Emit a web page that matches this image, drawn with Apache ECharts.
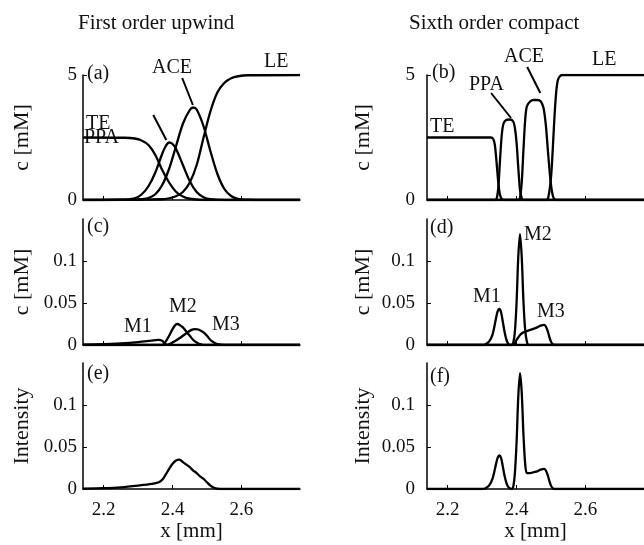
<!DOCTYPE html>
<html>
<head>
<meta charset="utf-8">
<script src="https://cdn.jsdelivr.net/npm/echarts@6/dist/echarts.min.js"></script>
<style>
  html, body { margin: 0; padding: 0; background: #fff; }
  #chart { width: 644px; height: 545px; }
</style>
</head>
<body>
<div id="chart"></div>
<script>
// x range and tick labels (shared by all panels)
const xMin = 2.14;
const xMax = 2.77;
const xTicks = [2.2, 2.4, 2.6];
const concTicks = [0, 5];
const smallTicks = [0, 0.05, 0.1];

// (a) first order upwind, c [mM]
const teUpwind = [[2.14,2.5],[2.26,2.49],[2.29,2.46],[2.31,2.38],[2.33,2.2],[2.35,1.8],[2.37,1.2],[2.39,0.7],[2.41,0.33],[2.43,0.14],[2.45,0.05],[2.48,0.01],[2.52,0],[2.77,0]];
const ppaUpwind = [[2.14,0],[2.25,0.01],[2.29,0.07],[2.31,0.22],[2.33,0.55],[2.35,1.1],[2.37,1.85],[2.38,2.15],[2.39,2.3],[2.40,2.24],[2.41,2.05],[2.43,1.4],[2.45,0.75],[2.47,0.32],[2.49,0.11],[2.51,0.03],[2.55,0],[2.77,0]];
const aceUpwind = [[2.14,0],[2.29,0.01],[2.31,0.03],[2.33,0.08],[2.35,0.23],[2.37,0.6],[2.39,1.25],[2.41,2.15],[2.43,3.05],[2.45,3.6],[2.46,3.7],[2.47,3.62],[2.49,2.95],[2.51,1.95],[2.53,1.05],[2.55,0.45],[2.57,0.16],[2.59,0.05],[2.62,0.01],[2.66,0],[2.77,0]];
const leUpwind = [[2.14,0],[2.37,0.03],[2.39,0.07],[2.41,0.15],[2.43,0.32],[2.45,0.7],[2.47,1.4],[2.49,2.5],[2.51,3.55],[2.53,4.3],[2.55,4.68],[2.57,4.87],[2.59,4.95],[2.62,4.99],[2.77,5]];

// (b) sixth order compact, c [mM]
const teCompact = [[2.14,2.5],[2.325,2.5],[2.332,2.45],[2.337,2.2],[2.342,1.5],[2.347,0.7],[2.352,0.2],[2.358,0.03],[2.365,0],[2.77,0]];
const ppaCompact = [[2.14,0],[2.335,0],[2.342,0.05],[2.347,0.5],[2.352,1.6],[2.357,2.6],[2.362,3.05],[2.37,3.2],[2.38,3.22],[2.39,3.15],[2.395,2.9],[2.40,2.3],[2.405,1.3],[2.41,0.4],[2.415,0.08],[2.42,0],[2.77,0]];
const aceCompact = [[2.14,0],[2.405,0],[2.41,0.1],[2.415,0.7],[2.42,2.0],[2.425,3.2],[2.43,3.75],[2.44,3.95],[2.45,4.0],[2.46,4.0],[2.47,3.95],[2.478,3.7],[2.485,3.0],[2.492,1.8],[2.5,0.6],[2.507,0.1],[2.515,0],[2.77,0]];
const leCompact = [[2.14,0],[2.485,0],[2.492,0.1],[2.5,0.9],[2.505,2.0],[2.51,3.3],[2.515,4.3],[2.52,4.8],[2.527,4.97],[2.535,5],[2.77,5]];

// (c) first order upwind, minor species
const m1Upwind = [[2.14,0.0005],[2.20,0.001],[2.25,0.002],[2.30,0.0035],[2.33,0.0048],[2.35,0.0058],[2.36,0.006],[2.37,0.005],[2.375,0.003],[2.38,0.001],[2.39,0],[2.77,0]];
const m2Upwind = [[2.14,0],[2.37,0],[2.38,0.004],[2.39,0.011],[2.40,0.019],[2.41,0.0245],[2.415,0.025],[2.42,0.024],[2.43,0.021],[2.44,0.016],[2.45,0.011],[2.46,0.006],[2.47,0.003],[2.48,0.001],[2.49,0],[2.77,0]];
const m3Upwind = [[2.14,0],[2.38,0],[2.40,0.003],[2.42,0.008],[2.44,0.014],[2.455,0.018],[2.465,0.019],[2.475,0.0185],[2.49,0.015],[2.50,0.011],[2.51,0.006],[2.52,0.003],[2.53,0.001],[2.55,0],[2.77,0]];

// (d) sixth order compact, minor species
const m1Compact = [[2.14,0],[2.30,0],[2.31,0.001],[2.32,0.004],[2.33,0.012],[2.34,0.031],[2.345,0.04],[2.35,0.043],[2.355,0.039],[2.36,0.028],[2.365,0.016],[2.37,0.007],[2.375,0.002],[2.38,0],[2.77,0]];
const m2Compact = [[2.14,0],[2.385,0],[2.39,0.002],[2.395,0.015],[2.40,0.05],[2.405,0.105],[2.41,0.132],[2.415,0.105],[2.42,0.052],[2.425,0.018],[2.43,0.004],[2.435,0],[2.77,0]];
const m3Compact = [[2.14,0],[2.39,0],[2.40,0.006],[2.41,0.012],[2.42,0.015],[2.44,0.018],[2.46,0.021],[2.47,0.023],[2.48,0.024],[2.485,0.022],[2.49,0.017],[2.495,0.01],[2.50,0.004],[2.505,0.001],[2.51,0],[2.77,0]];

// (e), (f) detector intensity
const intensityUpwind = [[2.14,0.0005],[2.20,0.001],[2.25,0.002],[2.30,0.004],[2.34,0.006],[2.36,0.008],[2.37,0.011],[2.38,0.017],[2.39,0.024],[2.40,0.03],[2.41,0.034],[2.42,0.035],[2.43,0.032],[2.44,0.029],[2.45,0.026],[2.46,0.022],[2.47,0.019],[2.48,0.015],[2.49,0.012],[2.50,0.008],[2.51,0.004],[2.52,0.0015],[2.53,0.0003],[2.55,0],[2.77,0]];
const intensityCompact = [[2.14,0],[2.30,0],[2.31,0.001],[2.32,0.004],[2.33,0.012],[2.34,0.029],[2.345,0.037],[2.35,0.04],[2.355,0.037],[2.36,0.027],[2.365,0.016],[2.37,0.008],[2.375,0.003],[2.38,0.001],[2.385,0],[2.39,0.002],[2.395,0.018],[2.40,0.055],[2.405,0.11],[2.41,0.138],[2.415,0.115],[2.42,0.065],[2.425,0.03],[2.43,0.019],[2.44,0.019],[2.45,0.02],[2.46,0.021],[2.47,0.023],[2.48,0.024],[2.485,0.022],[2.49,0.017],[2.495,0.01],[2.50,0.004],[2.505,0.001],[2.51,0],[2.77,0]];

// leader lines next to the labels, in data units
const leadersUpwind = [[[2.344,3.4],[2.382,2.4]], [[2.428,4.88],[2.459,3.8]]];
const leadersCompact = [[[2.326,4.28],[2.384,3.28]], [[2.431,5.32],[2.469,4.28]]];

const font = '"Liberation Serif", "DejaVu Serif", serif';
const ink = '#111';

const chart = echarts.init(document.getElementById('chart'));

const grids = [
  { left: 83, top: 75, width: 217, height: 125 },
  { left: 427, top: 75, width: 217, height: 125 },
  { left: 83, top: 219, width: 217, height: 126 },
  { left: 427, top: 219, width: 217, height: 126 },
  { left: 83, top: 363, width: 217, height: 126 },
  { left: 427, top: 363, width: 217, height: 126 }
];

function xAxisFor(i) {
  const bottom = i >= 4;
  return {
    type: 'value', gridIndex: i, min: xMin, max: xMax,
    axisLine: { show: true, onZero: false, lineStyle: { color: '#000', width: 1.5 } },
    axisTick: { inside: true, length: 4, customValues: xTicks, lineStyle: { color: '#000' } },
    axisLabel: { show: bottom, customValues: xTicks, margin: 12, color: ink, fontFamily: font, fontSize: 19 },
    splitLine: { show: false },
    name: bottom ? 'x [mm]' : '',
    nameLocation: 'middle', nameGap: 32,
    nameTextStyle: { color: ink, fontFamily: font, fontSize: 21 }
  };
}

function yAxisFor(i) {
  const top = i < 2;
  const right = i % 2 === 1;
  const ticks = top ? concTicks : smallTicks;
  return {
    type: 'value', gridIndex: i, min: 0, max: top ? 5 : 0.15,
    axisLine: { show: true, lineStyle: { color: '#000', width: 1.5 } },
    axisTick: { show: true, inside: true, length: 4, customValues: ticks, lineStyle: { color: '#000' } },
    axisLabel: { customValues: ticks, margin: right ? 12 : 6, color: ink, fontFamily: font, fontSize: 19 },
    splitLine: { show: false },
    name: i < 4 ? 'c [mM]' : 'Intensity',
    nameLocation: 'middle', nameGap: right ? 53 : 50,
    nameTextStyle: { color: ink, fontFamily: font, fontSize: 22 }
  };
}

function curve(i, data) {
  return {
    type: 'line', xAxisIndex: i, yAxisIndex: i, data: data,
    smooth: 0.3, symbol: 'none',
    lineStyle: { color: '#000', width: 2.3 }, silent: true
  };
}

function leaders(i, segs) {
  return {
    type: 'lines', coordinateSystem: 'cartesian2d', xAxisIndex: i, yAxisIndex: i,
    clip: false, silent: true,
    lineStyle: { color: '#000', width: 2, opacity: 1 },
    data: segs.map(s => ({ coords: s }))
  };
}

function txt(x, y, s) {
  return { type: 'text', left: x, top: y, silent: true,
    style: { text: s, fill: ink, font: '20px ' + font } };
}

chart.setOption({
  backgroundColor: '#fff',
  animation: false,
  title: [
    { text: 'First order upwind', left: 78, top: 13, padding: 0, textStyle: { color: ink, fontFamily: font, fontSize: 21, fontWeight: 'normal' } },
    { text: 'Sixth order compact', left: 409, top: 13, padding: 0, textStyle: { color: ink, fontFamily: font, fontSize: 21, fontWeight: 'normal' } }
  ],
  grid: grids,
  xAxis: [0, 1, 2, 3, 4, 5].map(xAxisFor),
  yAxis: [0, 1, 2, 3, 4, 5].map(yAxisFor),
  series: [
    curve(0, teUpwind), curve(0, ppaUpwind), curve(0, aceUpwind), curve(0, leUpwind),
    leaders(0, leadersUpwind),
    curve(1, teCompact), curve(1, ppaCompact), curve(1, aceCompact), curve(1, leCompact),
    leaders(1, leadersCompact),
    curve(2, m1Upwind), curve(2, m2Upwind), curve(2, m3Upwind),
    curve(3, m1Compact), curve(3, m2Compact), curve(3, m3Compact),
    curve(4, intensityUpwind),
    curve(5, intensityCompact)
  ],
  graphic: [
    txt(87, 64, '(a)'), txt(86, 114, 'TE'), txt(84, 128, 'PPA'), txt(152, 58, 'ACE'), txt(264, 52, 'LE'),
    txt(432, 63, '(b)'), txt(430, 117, 'TE'), txt(469, 75, 'PPA'), txt(504, 47, 'ACE'), txt(592, 50, 'LE'),
    txt(87, 217, '(c)'), txt(124, 317, 'M1'), txt(169, 297, 'M2'), txt(212, 315, 'M3'),
    txt(430, 218, '(d)'), txt(473, 287, 'M1'), txt(524, 225, 'M2'), txt(537, 302, 'M3'),
    txt(87, 364, '(e)'),
    txt(430, 367, '(f)')
  ]
});
</script>
</body>
</html>
